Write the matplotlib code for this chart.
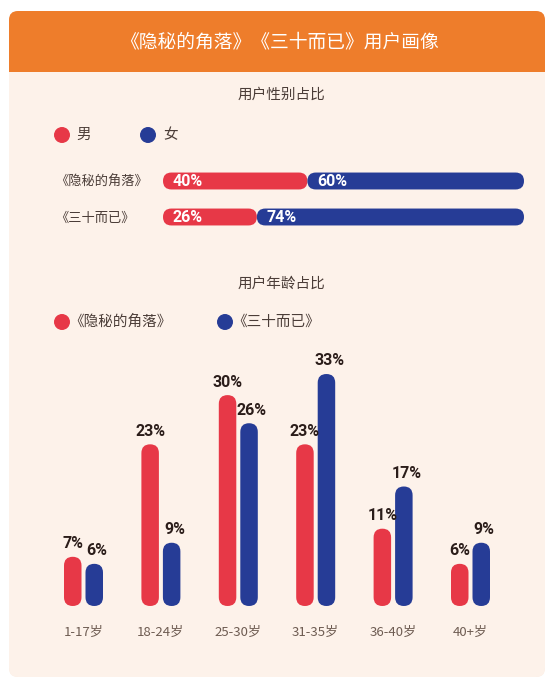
import matplotlib.pyplot as plt
import numpy as np
from matplotlib.patches import FancyBboxPatch, Rectangle

plt.rcParams['font.family'] = ['Noto Sans CJK SC', 'DejaVu Sans']

# data
shows = ['《隐秘的角落》', '《三十而已》']
male = [40, 26]
female = [60, 74]
age_groups = ['1-17岁', '18-24岁', '25-30岁', '31-35岁', '36-40岁', '40+岁']
age_hidden = [7, 23, 30, 23, 11, 6]
age_thirty = [6, 9, 26, 33, 17, 9]

RED = '#e73847'
BLUE = '#263c96'
ORANGE = '#ee7d2b'
TXT = '#4b3d38'
W, H = 549, 680


def round_bars(ax, bars, vertical=True):
    # swap plain rectangles for pill shapes (round in pixels)
    p0, p1 = ax.transData.transform([(0, 0), (1, 1)])
    m = abs(p1[0] - p0[0]) / abs(p1[1] - p0[1])
    for r in list(bars.patches):
        x, y, w, h = r.get_x(), r.get_y(), r.get_width(), r.get_height()
        rs = w / 2 if vertical else h / m / 2
        fp = FancyBboxPatch((x, y), w, h, boxstyle=f'round,pad=0,rounding_size={rs}',
                            mutation_aspect=m, fc=r.get_facecolor(), ec='none', zorder=3)
        r.remove()
        ax.add_patch(fp)


fig = plt.figure(figsize=(W / 100, H / 100), dpi=100)
fig.patch.set_facecolor('white')

# background card (pixel coords)
bg = fig.add_axes([0, 0, 1, 1])
bg.set_xlim(0, W)
bg.set_ylim(H, 0)
bg.axis('off')
card = FancyBboxPatch((9, 11), 536, 666, boxstyle='round,pad=0,rounding_size=9',
                      fc='#fdf2ea', ec='none')
bg.add_patch(card)
grad = np.linspace(0, 1, 256).reshape(-1, 1)
im = bg.imshow(grad, extent=(9, 545, 677, 11), cmap=plt.matplotlib.colors.LinearSegmentedColormap.from_list(
    'g', ['#fdf6f1', '#fcede3']), aspect='auto', zorder=0.5)
im.set_clip_path(card)
bg.add_patch(FancyBboxPatch((9, 11), 536, 61, boxstyle='round,pad=0,rounding_size=9',
                            fc=ORANGE, ec='none', zorder=1))
bg.add_patch(Rectangle((9, 40), 536, 32, fc=ORANGE, ec='none', zorder=1))
bg.text(279, 42, '《隐秘的角落》《三十而已》用户画像', color='white', fontsize=13.5,
        fontweight='medium', ha='center', va='center', zorder=2)

bg.text(281, 95, '用户性别占比', color=TXT, fontsize=10.5, ha='center', va='center')
bg.text(281, 284, '用户年龄占比', color=TXT, fontsize=10.5, ha='center', va='center')

# legends
bg.scatter([62, 148], [135, 135], s=110, c=[RED, BLUE], zorder=2)
bg.text(76, 135, '男', color=TXT, fontsize=10.5, va='center')
bg.text(163, 135, '女', color=TXT, fontsize=10.5, va='center')
bg.scatter([62, 225], [322, 322], s=110, c=[RED, BLUE], zorder=2)
bg.text(69, 322, shows[0], color=TXT, fontsize=10.5, va='center')
bg.text(232, 322, shows[1], color=TXT, fontsize=10.5, va='center')

# gender bars
axg = fig.add_axes([163 / W, (H - 235) / H, 361 / W, 72 / H])
axg.set_xlim(0, 100)
axg.set_ylim(1.5, -0.5)
axg.patch.set_visible(False)
for s in axg.spines.values():
    s.set_visible(False)
yy = np.arange(len(shows))
b1 = axg.barh(yy, male, height=0.47, color=RED)
b2 = axg.barh(yy, female, left=male, height=0.47, color=BLUE)
round_bars(axg, b1, vertical=False)
round_bars(axg, b2, vertical=False)
axg.set_xticks([])
axg.set_yticks(yy, shows)
axg.tick_params(axis='y', length=0, pad=78, labelsize=9.5, labelcolor=TXT)
for lab in axg.get_yticklabels():
    lab.set_ha('left')
for i in range(len(shows)):
    axg.annotate(f'{male[i]}%', (0, i), xytext=(7, 0), textcoords='offset points',
                 color='white', fontsize=11.5, fontweight='bold', family='Roboto',
                 va='center', zorder=5)
    axg.annotate(f'{female[i]}%', (male[i], i), xytext=(7, 0), textcoords='offset points',
                 color='white', fontsize=11.5, fontweight='bold', family='Roboto',
                 va='center', zorder=5)

# age bars
step = 77.4
axa = fig.add_axes([(83.5 - step / 2) / W, (H - 606) / H, 6 * step / W, 35 * 7.03 / H])
axa.set_xlim(-0.5, 5.5)
axa.set_ylim(0, 35)
axa.patch.set_visible(False)
for s in axa.spines.values():
    s.set_visible(False)
x = np.arange(len(age_groups))
bw = 17.5 / step
off = 10.75 / step
r1 = axa.bar(x - off, age_hidden, width=bw, color=RED)
r2 = axa.bar(x + off, age_thirty, width=bw, color=BLUE)
round_bars(axa, r1)
round_bars(axa, r2)
axa.set_yticks([])
axa.set_xticks(x, age_groups)
axa.tick_params(axis='x', length=0, pad=14, labelsize=9.5, labelcolor='#6e5c52')
for xi, v in zip(x - off, age_hidden):
    axa.annotate(f'{v}%', (xi, v), xytext=(0, 4), textcoords='offset points', ha='center',
                 va='bottom', fontsize=11.5, fontweight='bold', family='Roboto', color='#2b1d1a')
for xi, v in zip(x + off, age_thirty):
    axa.annotate(f'{v}%', (xi, v), xytext=(2, 4), textcoords='offset points', ha='center',
                 va='bottom', fontsize=11.5, fontweight='bold', family='Roboto', color='#2b1d1a')

fig.savefig('out.png', dpi=100)
